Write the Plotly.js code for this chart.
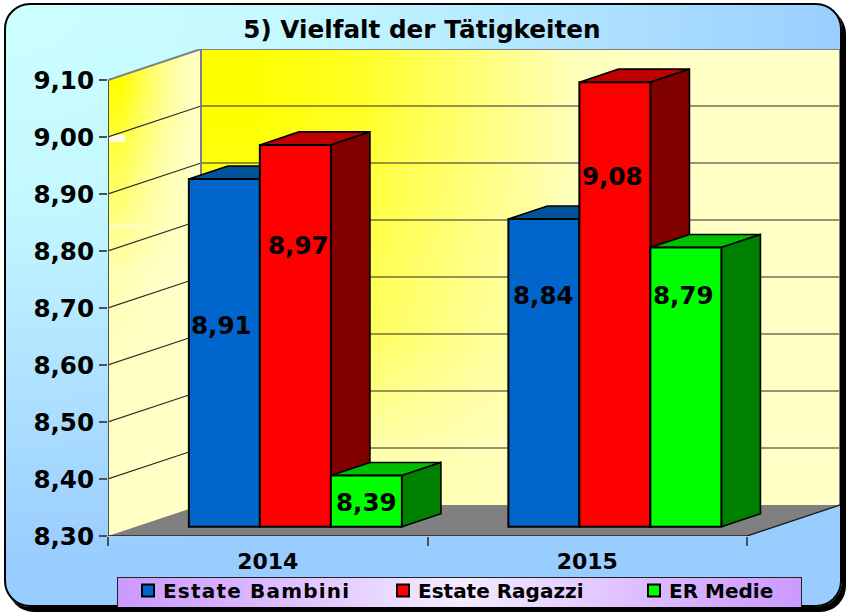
<!DOCTYPE html>
<html><head><meta charset="utf-8">
<script src="https://cdn.plot.ly/plotly-3.0.1.min.js"></script>
<style>
html,body{margin:0;padding:0;background:#fff;width:847px;height:614px;overflow:hidden}
#card{position:absolute;left:4px;top:3px;width:838px;height:604px;box-sizing:border-box;border:2px solid #000;border-radius:26px;
 box-shadow:4px 5px 0 #000;background:radial-gradient(ellipse 860px 560px at 0px 0px,#ccffff 0%,#c4f8ff 35%,#99ccff 100%)}
#legbg{position:absolute;left:117px;top:577px;width:685px;height:30px;box-sizing:border-box;border:1px solid #222;border-bottom:none;
 background:linear-gradient(90deg,#cc99ff 0%,#d8b4ff 18%,#f4ecff 50%,#d8b4ff 82%,#cc99ff 100%)}
#chart{position:absolute;left:0;top:0;width:847px;height:614px}
.legendtext{letter-spacing:1.2px}
.legendpoints{transform:translateX(5px)}
</style></head><body>
<div id="card"></div><div id="legbg"></div><div id="chart"></div>
<script>
var years=['2014','2015'];
var bambini=[8.91,8.84];
var ragazzi=[8.97,9.08];
var medie=[8.39,8.79];
var yTicks=[8.3,8.4,8.5,8.6,8.7,8.8,8.9,9.0,9.1];
var chartTitle='5) Vielfalt der Tätigkeiten';

var FONT='"DejaVu Sans", Verdana, sans-serif';
var dX=93/319.5, dY=31/570, yMin=8.3, yMax=9.1;
var groupW=213/319.5, barW=groupW/3;
var gapF=0.297, depthF=0.42;
var series=[
 {name:'Estate Bambini',v:bambini,front:'#0066cc',top:'#005299',side:'#003d7a',xs:[-3,0],drop:[146,77],legend:'legend',legX:123},
 {name:'Estate Ragazzi',v:ragazzi,front:'#ff0000',top:'#bf0000',side:'#800000',xs:[3,-2],drop:[101,94],legend:'legend2',legX:378},
 {name:'ER Medie',v:medie,front:'#00ff00',top:'#00bf00',side:'#008000',xs:[0,-2],drop:[27,48],legend:'legend3',legX:629}
];
var shiftX=gapF*dX, shiftY=gapF*dY, baseY=yMin+shiftY;
var topAll=yMax+dY, xEnd=years.length+dX;
var PALE='#ffffc6';
var scale=[[0,PALE],[1,'#ffff00']];
function hm(x,y,z){return {type:'heatmap',x:x,y:y,z:z,zsmooth:'best',zmin:0,zmax:1,colorscale:scale,showscale:false,hoverinfo:'skip',showlegend:false};}
function poly(x,y,fill,line,w){return {type:'scatter',mode:'lines',x:x,y:y,fill:'toself',fillcolor:fill,line:{color:line,width:w},hoverinfo:'skip',showlegend:false,cliponaxis:false};}
function path(x,y,color,w){return {type:'scatter',mode:'lines',x:x,y:y,line:{color:color,width:w},hoverinfo:'skip',showlegend:false,cliponaxis:false};}

var traces=[];
// back wall
var bx=[],by=[],i;
for(i=0;i<=6;i++)bx.push(dX+i*(xEnd-dX)/6);
for(i=0;i<=4;i++)by.push(yMin+dY+i*(yMax-yMin)/4);
traces.push(hm(bx,by,[
 [.2,.15,.08,0,0,0],
 [.62,.55,.28,.03,0,0],
 [.88,.68,.36,.05,0,0],
 [1,.8,.42,.06,0,0]]));
// left wall
var lx=[0,dX/4,dX/2,3*dX/4,dX], ly=[yMin,yMin+.35,yMin+.55,yMin+.72,topAll];
traces.push(hm(lx,ly,[
 [0,0,0,0],
 [.08,.03,0,0],
 [.55,.3,.1,0],
 [1,.6,.25,.04]]));
// mask above left wall
traces.push(poly([0,dX,0,0],[yMax,topAll,topAll,yMax],'#c6fbff','rgba(0,0,0,0)',0));
// small light flecks on the left wall
traces.push(poly([0,.053,.053,0,0],[8.991,8.991,9.0035,9.0035,8.991],'#fffbe0','rgba(0,0,0,0)',0));
traces.push(poly([0,.11,.11,0,0],[8.838,8.838,8.848,8.848,8.838],'#ffffb4','rgba(0,0,0,0)',0));
// floor
traces.push(poly([0,years.length,xEnd,dX,0],[yMin,yMin,yMin+dY,yMin+dY,yMin],'#808080','rgba(0,0,0,0)',0));
// grid
var gx=[],gy=[];
yTicks.slice(1,-1).forEach(function(v){gx.push(0,dX,xEnd,null);gy.push(v,v+dY,v+dY,null);});
traces.push(path(gx,gy,'#2a2a2a',1.2));
// wall borders
traces.push(path([0,dX,xEnd,xEnd],[yMax,topAll,topAll,yMin+dY],'#808080',2));
traces.push(path([dX,dX],[yMin+dY,topAll],'#808080',2));
traces.push(path([0,0],[yMin,yMax],'#505050',2));
traces.push(path([0,years.length,xEnd],[yMin,yMin,yMin+dY],'#222',1.4));

// depth faces
var ddx=depthF*dX, ddy=depthF*dY;
years.forEach(function(_,g){
 series.forEach(function(s,k){
  var xl=g+.5+shiftX-groupW/2+k*barW, xr=xl+barW, t=s.v[g]+shiftY;
  traces.push(poly([xl,xr,xr+ddx,xl+ddx,xl],[t,t,t+ddy,t+ddy,t],s.top,'#000',1.6));
  traces.push(poly([xr,xr+ddx,xr+ddx,xr,xr],[baseY,baseY+ddy,t+ddy,t,baseY],s.side,'#000',1.6));
 });
});
// bar fronts on the overlay subplot
series.forEach(function(s,k){
 traces.push({type:'bar',name:s.name,xaxis:'x2',yaxis:'y2',legend:s.legend,
  x:years.map(function(_,g){return g+.5+shiftX-groupW/2+(k+.5)*barW;}),
  y:s.v.map(function(v){return v-yMin;}),base:baseY,width:barW,
  marker:{color:s.front,line:{color:'#000',width:2}},hoverinfo:'skip'});
});
var anns=[];
series.forEach(function(s,k){
 s.v.forEach(function(v,g){
  anns.push({xref:'x',yref:'y',x:g+.5+shiftX-groupW/2+(k+.5)*barW,y:v+shiftY,xshift:s.xs[g],yshift:-s.drop[g],
   text:v.toFixed(2).replace('.',','),showarrow:false,xanchor:'center',yanchor:'middle',
   font:{family:FONT,size:24.6,color:'#000',weight:700}});
 });
});
var layout={
 width:847,height:614,paper_bgcolor:'rgba(0,0,0,0)',plot_bgcolor:'rgba(0,0,0,0)',
 margin:{l:108,r:7,t:49,b:78,autoexpand:false},separators:',.',barmode:'overlay',
 title:{text:chartTitle,x:422/847,xanchor:'center',y:1-29/614,yanchor:'middle',font:{family:FONT,size:24.7,color:'#000',weight:700}},
 xaxis:{range:[0,xEnd],tickmode:'array',tickvals:[0,1,2],ticktext:['','',''],ticks:'outside',ticklen:9,tickwidth:2,tickcolor:'#505050',showgrid:false,zeroline:false,showline:false,fixedrange:true},
 yaxis:{range:[yMin,topAll],tickmode:'array',tickvals:yTicks,tickformat:'.2f',ticks:'outside',ticklen:8,tickwidth:2,tickcolor:'#505050',showgrid:false,zeroline:false,showline:false,fixedrange:true,
  tickfont:{family:FONT,size:24.6,color:'#000',weight:700}},
 xaxis2:{overlaying:'x',anchor:'y2',range:[0,xEnd],tickmode:'array',tickvals:[.5,1.5],ticktext:years,ticks:'',ticklabelstandoff:10,showgrid:false,zeroline:false,showline:false,fixedrange:true,
  tickfont:{family:FONT,size:22,color:'#000',weight:700},side:'bottom'},
 yaxis2:{overlaying:'y',anchor:'x2',range:[yMin,topAll],showticklabels:false,ticks:'',showgrid:false,zeroline:false,showline:false,fixedrange:true},
 showlegend:true,
 annotations:anns
};
series.forEach(function(s){
 layout[s.legend]={orientation:'h',x:(s.legX-108)/732,xanchor:'left',y:-(590.5-536)/487,yanchor:'middle',bgcolor:'rgba(0,0,0,0)',borderwidth:0,
  font:{family:FONT,size:20,color:'#000',weight:700}};
});
Plotly.newPlot('chart',traces,layout,{staticPlot:true,displayModeBar:false});
</script></body></html>
